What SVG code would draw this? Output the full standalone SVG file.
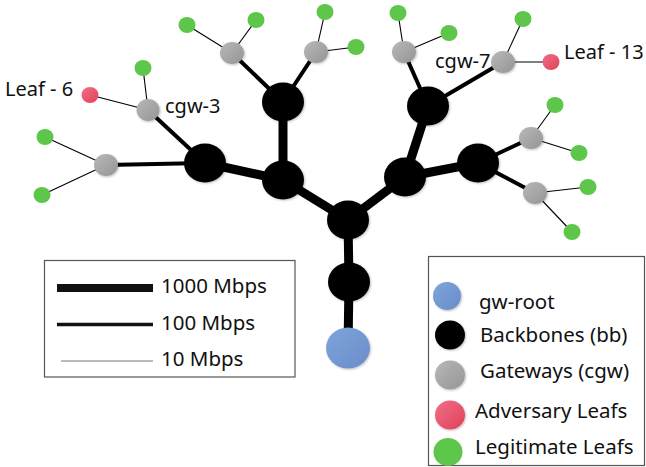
<svg xmlns="http://www.w3.org/2000/svg" width="646" height="467" viewBox="0 0 646 467">
  <style>
    text { font-family: "Noto Sans", "Open Sans", "DejaVu Sans", sans-serif; fill: #111; }
    .lbl { font-size: 20px; }
    .key { font-size: 20.5px; }
    .e1000 { stroke: #000; stroke-width: 9; stroke-linecap: butt; }
    .e100 { stroke: #000; stroke-width: 4; }
    .e10 { stroke: #000; stroke-width: 1.1; }
    .frame { fill: #fff; stroke: #555; stroke-width: 1.2; }
    .bb { fill: #000; filter: url(#halo); }
    .cgw { fill: url(#gGray); filter: url(#halo); }
    .leaf { fill: #5fc64c; }
    .adv { fill: url(#gRed); }
    .root { fill: url(#gBlue); filter: url(#halo); }
  </style>
  <defs>
    <linearGradient id="gGray" x1="0" y1="0" x2="1" y2="1">
      <stop offset="0" stop-color="#b8b8b8"/>
      <stop offset="1" stop-color="#959595"/>
    </linearGradient>
    <linearGradient id="gRed" x1="0" y1="0" x2="1" y2="1">
      <stop offset="0" stop-color="#f07086"/>
      <stop offset="1" stop-color="#e0405a"/>
    </linearGradient>
    <linearGradient id="gBlue" x1="0" y1="0" x2="1" y2="1">
      <stop offset="0" stop-color="#7ea5da"/>
      <stop offset="1" stop-color="#6a8cca"/>
    </linearGradient>
    <filter id="halo" x="-30%" y="-30%" width="160%" height="160%">
      <feDropShadow dx="1" dy="1" stdDeviation="1" flood-color="#000" flood-opacity="0.25"/>
    </filter>
  </defs>

  <!-- links -->
  <g id="connectors">
    <!-- 1000 Mbps backbone links -->
    <line class="e1000" x1="348" y1="348" x2="349" y2="282"/>
    <line class="e1000" x1="349" y1="282" x2="348" y2="220"/>
    <line class="e1000" x1="348" y1="220" x2="283" y2="180"/>
    <line class="e1000" x1="348" y1="220" x2="405" y2="177"/>
    <line class="e1000" x1="283" y1="180" x2="283" y2="102"/>
    <line class="e1000" x1="283" y1="180" x2="205" y2="163"/>
    <line class="e1000" x1="405" y1="177" x2="428" y2="106"/>
    <line class="e1000" x1="405" y1="177" x2="478" y2="163"/>
    <!-- 100 Mbps gateway links -->
    <line class="e100" x1="205" y1="163" x2="148" y2="110"/>
    <line class="e100" x1="205" y1="163" x2="106" y2="165"/>
    <line class="e100" x1="283" y1="102" x2="232" y2="53"/>
    <line class="e100" x1="283" y1="102" x2="316" y2="52"/>
    <line class="e100" x1="428" y1="106" x2="404" y2="52"/>
    <line class="e100" x1="428" y1="106" x2="503" y2="62"/>
    <line class="e100" x1="478" y1="163" x2="531" y2="138"/>
    <line class="e100" x1="478" y1="163" x2="535" y2="193"/>
    <!-- 10 Mbps leaf links -->
    <line class="e10" x1="148" y1="110" x2="90" y2="95"/>
    <line class="e10" x1="148" y1="110" x2="143" y2="68"/>
    <line class="e10" x1="106" y1="165" x2="45" y2="137"/>
    <line class="e10" x1="106" y1="165" x2="42" y2="195"/>
    <line class="e10" x1="232" y1="53" x2="187" y2="25"/>
    <line class="e10" x1="232" y1="53" x2="256" y2="20"/>
    <line class="e10" x1="316" y1="52" x2="325" y2="12"/>
    <line class="e10" x1="316" y1="52" x2="356" y2="47"/>
    <line class="e10" x1="404" y1="52" x2="398" y2="13"/>
    <line class="e10" x1="404" y1="52" x2="449" y2="33"/>
    <line class="e10" x1="503" y1="62" x2="523" y2="19"/>
    <line class="e10" x1="503" y1="62" x2="551" y2="62"/>
    <line class="e10" x1="531" y1="138" x2="555" y2="105"/>
    <line class="e10" x1="531" y1="138" x2="579" y2="153"/>
    <line class="e10" x1="535" y1="193" x2="588" y2="187"/>
    <line class="e10" x1="535" y1="193" x2="572" y2="232"/>
  </g>

  <!-- root -->
  <g id="gw-root"><ellipse class="root" cx="348" cy="348" rx="22" ry="20.5"/></g>

  <!-- backbones -->
  <g id="bb-1"><ellipse class="bb" cx="349" cy="282" rx="21" ry="19.5"/></g>
  <g id="bb-2"><ellipse class="bb" cx="348" cy="220" rx="21" ry="19.5"/></g>
  <g id="bb-3"><ellipse class="bb" cx="283" cy="180" rx="21" ry="19.5"/></g>
  <g id="bb-4"><ellipse class="bb" cx="405" cy="177" rx="21" ry="19.5"/></g>
  <g id="bb-5"><ellipse class="bb" cx="283" cy="102" rx="21" ry="19.5"/></g>
  <g id="bb-6"><ellipse class="bb" cx="205" cy="163" rx="21" ry="19.5"/></g>
  <g id="bb-7"><ellipse class="bb" cx="428" cy="106" rx="21" ry="19.5"/></g>
  <g id="bb-8"><ellipse class="bb" cx="478" cy="163" rx="21" ry="19.5"/></g>

  <!-- gateways -->
  <g id="cgw-3">
    <ellipse class="cgw" cx="148" cy="110" rx="11.5" ry="11"/>
    <text class="lbl" x="165" y="113">cgw-3</text>
  </g>
  <g id="cgw-1"><ellipse class="cgw" cx="106" cy="165" rx="12" ry="11"/></g>
  <g id="cgw-4"><ellipse class="cgw" cx="232" cy="53" rx="12" ry="11"/></g>
  <g id="cgw-5"><ellipse class="cgw" cx="316" cy="52" rx="12" ry="11"/></g>
  <g id="cgw-6"><ellipse class="cgw" cx="404" cy="52" rx="12" ry="11"/></g>
  <g id="cgw-7">
    <ellipse class="cgw" cx="503" cy="62" rx="12" ry="11"/>
    <text class="lbl" x="435" y="68">cgw-7</text>
  </g>
  <g id="cgw-8"><ellipse class="cgw" cx="531" cy="138" rx="12" ry="11"/></g>
  <g id="cgw-9"><ellipse class="cgw" cx="535" cy="193" rx="12" ry="11"/></g>

  <!-- leaves -->
  <g id="leaf-6">
    <ellipse class="adv" cx="90" cy="95" rx="8.5" ry="8"/>
    <text class="lbl" x="5" y="96">Leaf - 6</text>
  </g>
  <g id="leaf-13">
    <ellipse class="adv" cx="551" cy="62" rx="8.5" ry="8"/>
    <text class="lbl" x="564" y="59">Leaf - 13</text>
  </g>
  <g id="leaf-5"><ellipse class="leaf" cx="143" cy="68" rx="8.5" ry="8"/></g>
  <g id="leaf-1"><ellipse class="leaf" cx="45" cy="137" rx="8.5" ry="8"/></g>
  <g id="leaf-2"><ellipse class="leaf" cx="42" cy="195" rx="8.5" ry="8"/></g>
  <g id="leaf-7"><ellipse class="leaf" cx="187" cy="25" rx="8.5" ry="8"/></g>
  <g id="leaf-8"><ellipse class="leaf" cx="256" cy="20" rx="8.5" ry="8"/></g>
  <g id="leaf-9"><ellipse class="leaf" cx="325" cy="12" rx="8.5" ry="8"/></g>
  <g id="leaf-10"><ellipse class="leaf" cx="356" cy="47" rx="8.5" ry="8"/></g>
  <g id="leaf-11"><ellipse class="leaf" cx="398" cy="13" rx="8.5" ry="8"/></g>
  <g id="leaf-12"><ellipse class="leaf" cx="449" cy="33" rx="8.5" ry="8"/></g>
  <g id="leaf-14"><ellipse class="leaf" cx="523" cy="19" rx="8.5" ry="8"/></g>
  <g id="leaf-15"><ellipse class="leaf" cx="555" cy="105" rx="8.5" ry="8"/></g>
  <g id="leaf-16"><ellipse class="leaf" cx="579" cy="153" rx="8.5" ry="8"/></g>
  <g id="leaf-17"><ellipse class="leaf" cx="588" cy="187" rx="8.5" ry="8"/></g>
  <g id="leaf-18"><ellipse class="leaf" cx="572" cy="232" rx="8.5" ry="8"/></g>

  <!-- link-speed key -->
  <g id="speed-key">
    <rect class="frame" x="44.5" y="260.5" width="250.5" height="116.5"/>
    <line x1="57" y1="288" x2="153" y2="288" stroke="#111" stroke-width="8"/>
    <line x1="57" y1="324.5" x2="153" y2="324.5" stroke="#111" stroke-width="3.5"/>
    <line x1="61" y1="361" x2="153" y2="361" stroke="#777" stroke-width="1.2"/>
    <text class="key" x="161" y="293">1000 Mbps</text>
    <text class="key" x="161" y="330">100 Mbps</text>
    <text class="key" x="161" y="366">10 Mbps</text>
  </g>

  <!-- node-type key -->
  <g id="type-key">
    <rect class="frame" x="428.5" y="256.5" width="216" height="209"/>
    <ellipse class="root" cx="447" cy="296" rx="14" ry="14"/>
    <ellipse cx="450" cy="335" rx="15" ry="14.5" fill="#000" filter="url(#halo)"/>
    <ellipse class="cgw" cx="450" cy="375" rx="15" ry="14.5"/>
    <ellipse class="adv" cx="450" cy="415" rx="15" ry="14.5" filter="url(#halo)"/>
    <ellipse class="leaf" cx="448" cy="452" rx="14.5" ry="14"/>
    <text class="key" x="479" y="308.5">gw-root</text>
    <text class="key" x="480" y="341.5">Backbones (bb)</text>
    <text class="key" x="480" y="378">Gateways (cgw)</text>
    <text class="key" x="475" y="418">Adversary Leafs</text>
    <text class="key" x="475" y="454">Legitimate Leafs</text>
  </g>
</svg>
